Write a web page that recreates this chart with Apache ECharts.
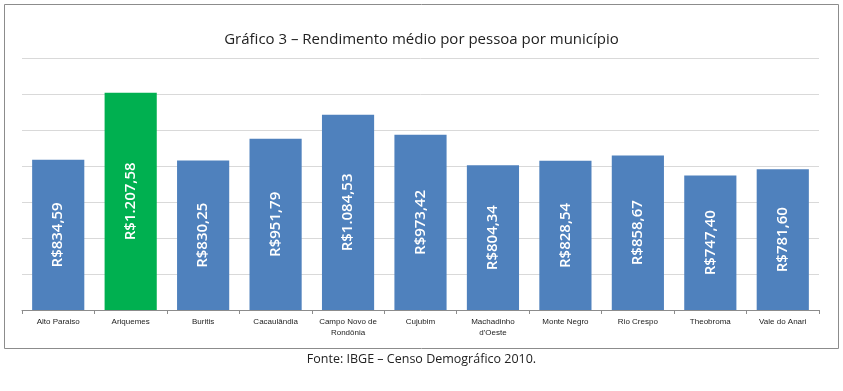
<!DOCTYPE html>
<html><head><meta charset="utf-8">
<script src="https://cdn.jsdelivr.net/npm/echarts@6/dist/echarts.min.js"></script>
<style>html,body{margin:0;padding:0;background:#fff}#c{width:843px;height:391px}</style>
</head><body><div id="c"></div>
<script>
const categories = ["Alto Paraiso","Ariquemes","Buritis","Cacaulândia","Campo Novo de\nRondônia","Cujubim","Machadinho\nd'Oeste","Monte Negro","Rio Crespo","Theobroma","Vale do Anari"];
const values = [834.59,1207.58,830.25,951.79,1084.53,973.42,804.34,828.54,858.67,747.40,781.60];
const highlightIndex = 1;
const titleText = "Gráfico 3 – Rendimento médio por pessoa por município";
const sourceText = "Fonte: IBGE – Censo Demográfico 2010.";

function brl(v){
  const parts = v.toFixed(2).split('.');
  const intPart = parts[0].replace(/\B(?=(\d{3})+(?!\d))/g, '.');
  return 'R$' + intPart + ',' + parts[1];
}
const chart = echarts.init(document.getElementById('c'), null, {renderer:'canvas'});
chart.setOption({
  animation:false,
  backgroundColor:'#fff',
  title:{text:titleText,left:'center',top:27,itemGap:0,
    textStyle:{fontFamily:'Open Sans',fontSize:15,fontWeight:'normal',color:'#222'}},
  graphic:[
    {type:'rect',shape:{x:4.5,y:4.5,width:834,height:344},style:{fill:null,stroke:'#8c8c8c',lineWidth:1},z:-1},
    {type:'text',left:'center',top:353,style:{text:sourceText,font:'12.5px "Open Sans"',fill:'#222'}}
  ],
  grid:{left:22,right:24,top:58,bottom:81},
  xAxis:{type:'category',data:categories,
    axisLine:{lineStyle:{color:'#8c8c8c',width:1}},
    axisTick:{show:true,length:4,lineStyle:{color:'#8c8c8c'}},
    axisLabel:{fontFamily:'Liberation Sans Narrow, Liberation Sans',fontSize:8,color:'#222',margin:6,lineHeight:11,interval:0}},
  yAxis:{type:'value',min:0,max:1400,interval:200,
    axisLabel:{show:false},axisLine:{show:false},axisTick:{show:false},
    splitLine:{lineStyle:{color:'#d9d9d9',width:1}}},
  series:[{type:'bar',barCategoryGap:'28%',
    data:values.map((v,i)=>({value:v,itemStyle:{color:i===highlightIndex?'#00B050':'#4F81BD'}})),
    label:{show:true,position:'inside',rotate:90,formatter:p=>brl(p.value),
      color:'#fff',fontFamily:'Open Sans',fontSize:15,fontWeight:600}}]
});
</script></body></html>
